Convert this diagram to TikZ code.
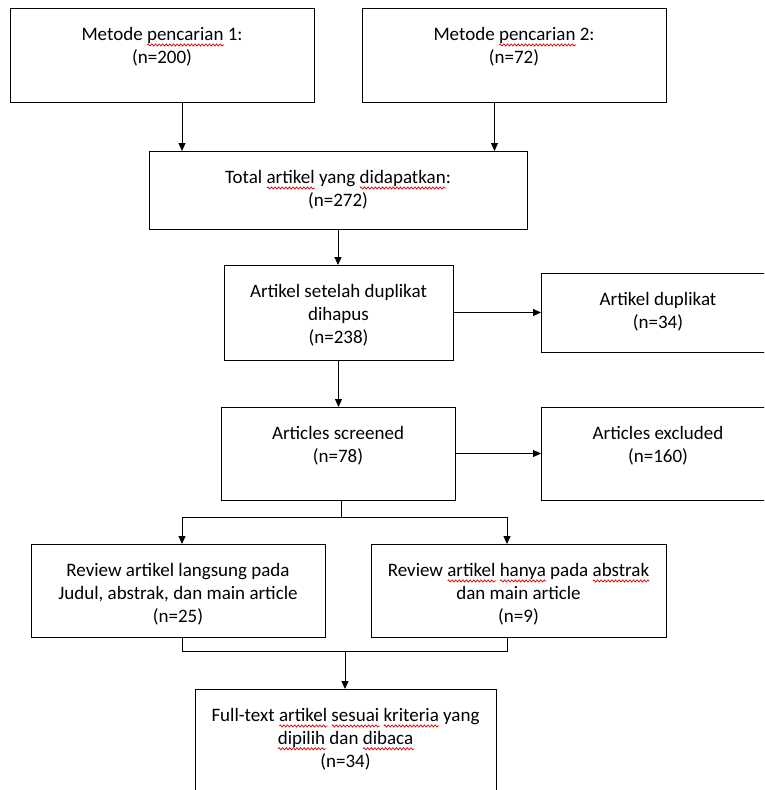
\documentclass[tikz,border=0pt]{standalone}
\usepackage{fontspec}
\setmainfont{Carlito}
\usetikzlibrary{arrows.meta,calc,decorations.pathmorphing}
\newsavebox\sqbox
\newcommand\sqw[1]{\leavevmode\sbox\sqbox{#1}\rlap{\tikz[baseline=0pt,x=1pt,y=1pt]\draw[red!85!black,line width=0.7pt,decorate,decoration={zigzag,segment length=3.6pt,amplitude=1.1pt}] (0,-4) -- (\the\wd\sqbox,-4);}\usebox\sqbox}
\newcommand\bxtext[3]{\parbox[t][#2][t]{#1}{\centering\fontsize{19}{22.8}\selectfont\vspace*{17pt}\strut#3\strut}}
\begin{document}
\begin{tikzpicture}[x=1pt,y=-1pt,
  box/.style={draw=black,line width=1pt,inner sep=0pt,outer sep=0pt,anchor=north west},
  conn/.style={draw=black,line width=1pt},
  arr/.style={conn,-{Triangle[length=8pt,width=7pt]}}]
\path[use as bounding box,clip] (0,0) rectangle (764,790);
\fill[white] (0,0) rectangle (764,790);
\node[box] (b1) at (10,8) {\bxtext{304pt}{94pt}{Metode \sqw{pencarian} 1:\\(n=200)}};
\node[box] (b2) at (362,8) {\bxtext{304pt}{94pt}{Metode \sqw{pencarian} 2:\\(n=72)}};
\node[box] (b3) at (149,151) {\bxtext{378pt}{78pt}{Total \sqw{artikel} yang \sqw{didapatkan}:\\(n=272)}};
\node[box] (b4) at (224,265) {\bxtext{229pt}{95pt}{Artikel setelah duplikat\\dihapus\\(n=238)}};
\node[box] (b5) at (541,273) {\bxtext{234pt}{79pt}{Artikel duplikat\\(n=34)}};
\node[box] (b6) at (221,407) {\bxtext{234pt}{93pt}{Articles screened\\(n=78)}};
\node[box] (b7) at (541,407) {\bxtext{234pt}{93pt}{Articles excluded\\(n=160)}};
\node[box] (b8) at (31,544) {\bxtext{294pt}{93pt}{Review artikel langsung pada\\Judul, abstrak, dan main article\\(n=25)}};
\node[box] (b9) at (371,544) {\bxtext{295pt}{93pt}{Review \sqw{artikel} \sqw{hanya} pada \sqw{abstrak}\\dan main article\\(n=9)}};
\node[box] (b10) at (195,689) {\bxtext{301pt}{130pt}{Full-text \sqw{artikel} \sqw{sesuai} \sqw{kriteria} yang\\\sqw{dipilih} dan \sqw{dibaca}\\(n=34)}};
% connectors
\coordinate (a1) at ([xshift=20pt]b1.south);
\coordinate (a2) at ([xshift=-19.5pt]b2.south);
\draw[arr] (a1) -- (a1 |- b3.north);
\draw[arr] (a2) -- (a2 |- b3.north);
\draw[arr] (b3.south) -- (b3.south |- b4.north);
\draw[arr] (b4.south) -- (b4.south |- b6.north);
\draw[arr] (b4.east) -- (b4.east -| b5.west);
\draw[arr] (b6.east) -- (b6.east -| b7.west);
\coordinate (s1) at (341,517);
\coordinate (t8) at ([xshift=4pt]b8.north);
\coordinate (t9) at ([xshift=-11.5pt]b9.north);
\draw[conn] (s1 |- b6.south) -- (s1);
\draw[arr] (s1) -| (t8);
\draw[arr] (s1) -| (t9);
\coordinate (m1) at (345,651);
\coordinate (u8) at ([xshift=4pt]b8.south);
\coordinate (u9) at ([xshift=-11.5pt]b9.south);
\draw[conn] (u8) |- (m1);
\draw[conn] (u9) |- (m1);
\draw[arr] (m1) -- (m1 |- b10.north);
\end{tikzpicture}
\end{document}
